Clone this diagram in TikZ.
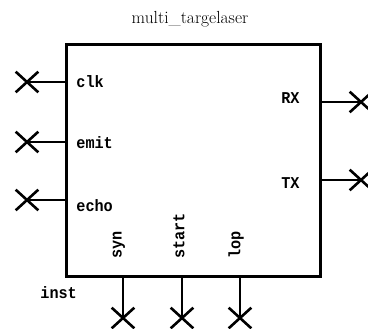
\documentclass[tikz,border=0pt]{standalone}
\usepackage{fontspec}
\newfontfamily\pinfont[FakeStretch=0.92]{Liberation Mono}
\usetikzlibrary{shapes.misc}
\begin{document}
\begin{tikzpicture}[x=1pt,y=-1pt,line width=2.8pt,
  pinx/.style={cross out,draw,minimum width=20pt,minimum height=18pt,inner sep=0pt,line width=2.6pt},
  lbl/.style={font=\pinfont\bfseries\fontsize{16.5}{16.5}\selectfont,inner sep=0pt},
  ttl/.style={font=\fontsize{17.5}{17.5}\selectfont,inner sep=0pt}]
\useasboundingbox (0,0) rectangle (368,329);
% block outline
\node[draw,minimum width=254pt,minimum height=232pt,inner sep=0pt,anchor=north west] (box) at (65,43) {};
\node[ttl,anchor=base] (title) at (190,24) {multi\_targelaser};
% left pins
\node[pinx] (xclk) at (27,82) {};
\node[pinx] (xemit) at (27,142) {};
\node[pinx] (xecho) at (27,200) {};
\draw (xclk.center) -- (xclk.center -| box.west);
\draw (xemit.center) -- (xemit.center -| box.west);
\draw (xecho.center) -- (xecho.center -| box.west);
\node[lbl,anchor=west] (lclk) at (75,82) {clk};
\node[lbl,anchor=west] (lemit) at (75,143) {emit};
\node[lbl,anchor=west] (lecho) at (75,206) {echo};
% right pins
\node[pinx] (xrx) at (361,102) {};
\node[pinx] (xtx) at (361,180) {};
\draw (xrx.center -| box.east) -- (xrx.center);
\draw (xtx.center -| box.east) -- (xtx.center);
\node[lbl,anchor=east] (lrx) at (301,98) {RX};
\node[lbl,anchor=east] (ltx) at (301,183) {TX};
% bottom pins
\node[pinx] (xsyn) at (123,318) {};
\node[pinx] (xstart) at (182,318) {};
\node[pinx] (xlop) at (240,318) {};
\draw (xsyn.center |- box.south) -- (xsyn.center);
\draw (xstart.center |- box.south) -- (xstart.center);
\draw (xlop.center |- box.south) -- (xlop.center);
\node[lbl,rotate=90,anchor=west] (lsyn) at (119,260) {syn};
\node[lbl,rotate=90,anchor=west] (lstart) at (179,260) {start};
\node[lbl,rotate=90,anchor=west] (llop) at (236,260) {lop};
\node[lbl,anchor=west] (linst) at (39,293) {inst};
\end{tikzpicture}
\end{document}
